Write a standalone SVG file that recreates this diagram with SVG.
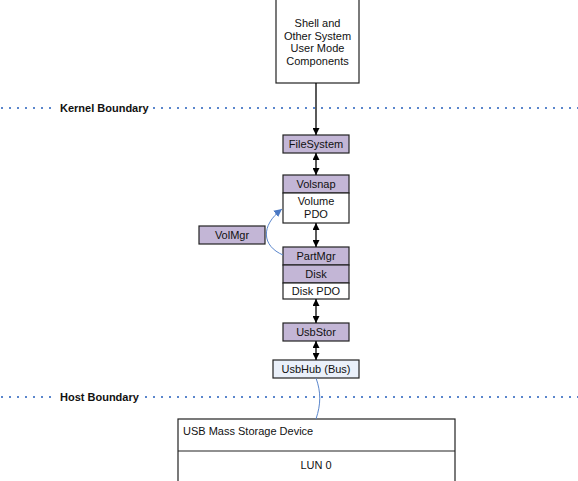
<svg xmlns="http://www.w3.org/2000/svg" width="578" height="481" viewBox="0 0 578 481">
<defs>
<style>
.box{stroke:#222;stroke-width:1.2}
.p{fill:#c3b6d6}
.w{fill:#fff}
.h{fill:#eaf0fa}
text{font-family:"Liberation Sans",Arial,sans-serif;font-size:11px;fill:#111}
.c{text-anchor:middle}
.b{font-weight:bold}
.dot{stroke:#5a86cc;stroke-width:2;stroke-dasharray:2 6;fill:none}
.conn{stroke:#000;stroke-width:1.3;fill:none}
.blue{stroke:#5a86cc;stroke-width:1;fill:none}
</style>
<marker id="ah" viewBox="0 0 10 10" refX="10" refY="5" markerWidth="7" markerHeight="7" orient="auto-start-reverse" markerUnits="userSpaceOnUse"><path d="M0,0 L10,5 L0,10 z" fill="#000"/></marker>
<marker id="bh" viewBox="0 0 10 10" refX="10" refY="5" markerWidth="8" markerHeight="8" orient="auto" markerUnits="userSpaceOnUse"><path d="M0,0 L10,5 L0,10 z" fill="#4a78c4"/></marker>
</defs>
<rect width="578" height="481" fill="#fff"/>
<g id="boundaries">
<line class="dot" x1="1" y1="108" x2="57" y2="108"/>
<line class="dot" x1="153" y1="108" x2="578" y2="108"/>
<text class="b" x="60" y="112">Kernel Boundary</text>
<line class="dot" x1="1" y1="397" x2="57" y2="397"/>
<line class="dot" x1="145" y1="397" x2="578" y2="397"/>
<text class="b" x="60" y="401">Host Boundary</text>
</g>
<g id="shell">
<rect class="box w" x="276" y="-1" width="83" height="84"/>
<text class="c" x="317.5" y="27">Shell and</text>
<text class="c" x="317.5" y="40">Other System</text>
<text class="c" x="317.5" y="52">User Mode</text>
<text class="c" x="317.5" y="65">Components</text>
</g>
<g id="filesystem">
<rect class="box p" x="283" y="135" width="66" height="18"/>
<text class="c" x="316" y="148">FileSystem</text>
</g>
<g id="volsnap">
<rect class="box p" x="283" y="175" width="66" height="18"/>
<text class="c" x="316" y="188">Volsnap</text>
<rect class="box w" x="283" y="193" width="66" height="30"/>
<text class="c" x="316" y="205">Volume</text>
<text class="c" x="316" y="218">PDO</text>
</g>
<g id="volmgr">
<rect class="box p" x="199" y="226" width="66" height="18"/>
<text class="c" x="232" y="239">VolMgr</text>
</g>
<g id="partmgr">
<rect class="box p" x="283" y="247" width="66" height="18"/>
<text class="c" x="316" y="260">PartMgr</text>
<rect class="box p" x="283" y="265" width="66" height="18"/>
<text class="c" x="316" y="278">Disk</text>
<rect class="box w" x="283" y="283" width="66" height="16"/>
<text class="c" x="316" y="295">Disk PDO</text>
</g>
<g id="usbstor">
<rect class="box p" x="283" y="323" width="66" height="18"/>
<text class="c" x="316" y="336">UsbStor</text>
</g>
<g id="usbhub">
<rect class="box h" x="273" y="360" width="86" height="18"/>
<text class="c" x="316" y="373">UsbHub (Bus)</text>
</g>
<g id="device">
<rect class="box w" x="178" y="419" width="277" height="64"/>
<line class="box" x1="178" y1="451" x2="455" y2="451"/>
<text x="183" y="435">USB Mass Storage Device</text>
<text class="c" x="316" y="469">LUN 0</text>
</g>
<g id="connectors">
<line class="conn" x1="316" y1="83" x2="316" y2="135" marker-end="url(#ah)"/>
<line class="conn" x1="316" y1="153" x2="316" y2="175" marker-start="url(#ah)" marker-end="url(#ah)"/>
<line class="conn" x1="316" y1="223" x2="316" y2="247" marker-start="url(#ah)" marker-end="url(#ah)"/>
<line class="conn" x1="316" y1="299" x2="316" y2="323" marker-start="url(#ah)" marker-end="url(#ah)"/>
<line class="conn" x1="316" y1="341" x2="316" y2="360" marker-start="url(#ah)" marker-end="url(#ah)"/>
<path class="blue" d="M283,255 C262,246 260,226 282,209" marker-end="url(#bh)"/>
<path class="blue" d="M316,378 C321,392 321,404 316,419"/>
</g>
</svg>
